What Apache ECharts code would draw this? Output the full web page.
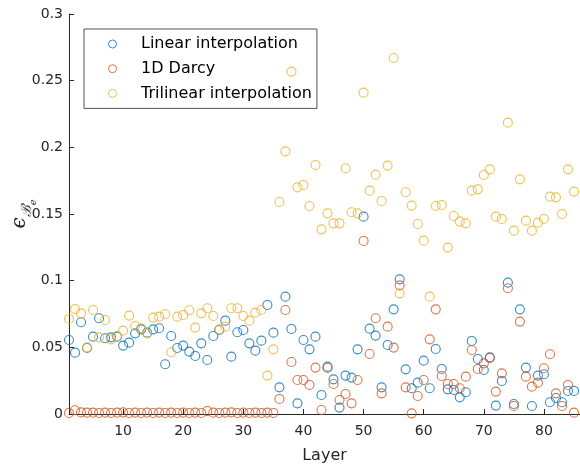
<!DOCTYPE html>
<html>
<head>
<meta charset="utf-8">
<script src="https://cdn.jsdelivr.net/npm/echarts@6/dist/echarts.min.js"></script>
<style>
html,body{margin:0;padding:0;background:#fff;}
#chart{width:580px;height:469px;}
</style>
</head>
<body>
<div id="chart"></div>
<script>
const layers = [1,2,3,4,5,6,7,8,9,10,11,12,13,14,15,16,17,18,19,20,21,22,23,24,25,26,27,28,29,30,31,32,33,34,35,36,37,38,39,40,41,42,43,44,45,46,47,48,49,50,51,52,53,54,55,56,57,58,59,60,61,62,63,64,65,66,67,68,69,70,71,72,73,74,75,76,77,78,79,80,81,82,83,84,85];

const linearInterp = [0.0555,0.046,0.0688,0.0495,0.058,0.0718,0.0568,0.0575,0.058,0.0513,
0.0535,0.0605,0.0635,0.061,0.0635,0.0643,0.0373,0.0585,0.0495,0.0513,
0.0468,0.0435,0.053,0.0405,0.0585,0.063,0.070,0.043,0.0613,0.063,
0.053,0.0475,0.055,0.0818,0.061,0.020,0.088,0.0638,0.008,0.0555,
0.0485,0.058,0.0143,0.0355,0.026,0.0048,0.0288,0.0273,0.0485,0.148,
0.064,0.0588,0.020,0.0518,0.0785,0.101,0.0335,0.0193,0.0235,0.040,
0.0193,0.0488,0.0338,0.0185,0.018,0.0125,0.0163,0.0548,0.0413,0.033,
0.0425,0.0063,0.0248,0.0985,0.0075,0.0785,0.0348,0.006,0.0288,0.0298,
0.0088,0.012,0.0088,0.0173,0.0173];

const darcy1D = [0.0008,0.0028,0.0012,0.001,0.001,0.0008,0.001,0.0008,0.001,0.0012,
0.0008,0.001,0.0008,0.001,0.0008,0.001,0.0008,0.001,0.0008,0.001,
0.0008,0.001,0.0008,0.0022,0.001,0.0008,0.001,0.0012,0.0008,0.001,
0.0008,0.001,0.0008,0.001,0.0008,0.0113,0.078,0.039,0.0255,0.0255,
0.0218,0.0348,0.003,0.0345,0.0225,0.0105,0.015,0.008,0.0255,0.1298,
0.045,0.0718,0.0155,0.0655,0.0498,0.0965,0.020,0.0005,0.0135,0.0255,
0.056,0.0785,0.0285,0.0225,0.0225,0.0193,0.028,0.048,0.0338,0.038,
0.042,0.0168,0.0305,0.0943,0.006,0.0693,0.028,0.0205,0.0235,0.0343,
0.0448,0.0155,0.006,0.0218,0.001];

const trilinearInterp = [0.0713,0.0788,0.0755,0.050,0.078,0.0575,0.0705,0.056,0.0585,0.0625,
0.0738,0.066,0.0643,0.0605,0.0723,0.073,0.0748,0.0463,0.073,0.0743,
0.0778,0.0648,0.0755,0.0793,0.0735,0.0635,0.0655,0.0793,0.0793,0.0735,
0.070,0.076,0.078,0.0288,0.0485,0.159,0.197,0.2568,0.170,0.1718,
0.156,0.1868,0.1385,0.1505,0.143,0.143,0.1843,0.1513,0.1505,0.241,
0.1675,0.1795,0.1598,0.1863,0.267,0.0905,0.1663,0.1563,0.1425,0.130,
0.088,0.156,0.1568,0.1248,0.1485,0.1443,0.143,0.1675,0.1685,0.1793,
0.1835,0.148,0.1463,0.2185,0.1375,0.176,0.145,0.1375,0.1435,0.1463,
0.163,0.1625,0.150,0.1835,0.1668];

const xTicks = [10,20,30,40,50,60,70,80];
const seriesNames = ['Linear interpolation','1D Darcy','Trilinear interpolation'];
const seriesColors = ['#0072BD','#D95319','#EDB120'];
const seriesValues = [linearInterp, darcy1D, trilinearInterp];

const FONT = 'DejaVu Sans';
const chart = echarts.init(document.getElementById('chart'), null, {renderer:'canvas'});

const option = {
  backgroundColor: '#ffffff',
  animation: false,
  grid: {left: 69, right: 0, top: 14, bottom: 55, containLabel: false, outerBoundsMode: 'none'},
  legend: {
    orient: 'vertical',
    left: 84, top: 29,
    padding: [5, 5, 5, 24],
    itemWidth: 47, itemHeight: 8, itemGap: 4.7,
    backgroundColor: 'transparent',
    borderColor: '#262626', borderWidth: 0.8,
    textStyle: {fontFamily: FONT, fontSize: 16, color: '#000', lineHeight: 20},
    data: seriesNames.map(n => ({name: n, icon: 'circle'})),
    itemStyle: {borderWidth: 1}
  },
  xAxis: {
    type: 'value', min: 1, max: 86,
    name: 'Layer', nameLocation: 'middle', nameGap: 34, nameMoveOverlap: false,
    nameTextStyle: {fontFamily: FONT, fontSize: 16, color: '#262626'},
    axisLine: {lineStyle: {color: '#262626', width: 1}},
    axisTick: {inside: true, length: 5, customValues: xTicks, lineStyle: {color: '#262626'}},
    axisLabel: {customValues: xTicks, fontFamily: FONT, fontSize: 14, color: '#262626', margin: 10},
    splitLine: {show: false}
  },
  yAxis: {
    type: 'value', min: 0, max: 0.3, interval: 0.05,
    name: '{a|ϵ}{b|ℬ}{c|e}', nameLocation: 'middle', nameGap: 49, nameRotate: 90, nameMoveOverlap: false,
    nameTextStyle: {
      fontFamily: 'DejaVu Serif', color: '#262626', align: 'center', verticalAlign: 'middle',
      rich: {
        a: {fontFamily: 'DejaVu Serif', fontStyle: 'italic', fontSize: 20, lineHeight: 20, verticalAlign: 'top', color: '#262626'},
        b: {fontFamily: 'DejaVu Serif', fontStyle: 'italic', fontSize: 14, lineHeight: 14, verticalAlign: 'top', padding: [10,0,0,0], color: '#262626'},
        c: {fontFamily: 'DejaVu Serif', fontStyle: 'italic', fontSize: 10, lineHeight: 10, verticalAlign: 'top', padding: [18,0,0,0], color: '#262626'}
      }
    },
    axisLine: {show: true, lineStyle: {color: '#262626', width: 1}},
    axisTick: {show: true, inside: true, length: 5, lineStyle: {color: '#262626'}},
    axisLabel: {fontFamily: FONT, fontSize: 14, color: '#262626', margin: 6},
    splitLine: {show: false}
  },
  series: seriesNames.map((name, k) => ({
    name: name,
    type: 'scatter',
    symbol: 'circle',
    symbolSize: 9,
    clip: false,
    itemStyle: {color: 'rgba(0,0,0,0)', borderColor: seriesColors[k], borderWidth: 1.1},
    data: layers.map((l, i) => [l, seriesValues[k][i]])
  }))
};
chart.setOption(option);
</script>
</body>
</html>
